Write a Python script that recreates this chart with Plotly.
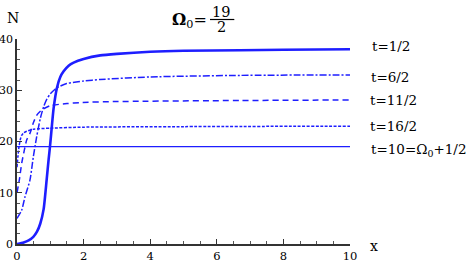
import plotly.graph_objects as go

# t = 1/2 (solid thick)
x_t1 = [0, 0.2, 0.35, 0.49, 0.6, 0.7, 0.8, 0.89, 0.95, 0.99, 1.04, 1.1, 1.2, 1.3, 1.4, 1.55, 1.7, 2.0, 2.5, 3, 4, 5, 6.7, 8, 10]
n_t1 = [0, 0.3, 0.7, 1.4, 2.4, 4.0, 6.8, 12.5, 16.5, 19, 22.5, 26.5, 30.5, 32.6, 33.7, 34.8, 35.4, 36.1, 36.8, 37.1, 37.5, 37.7, 37.8, 37.9, 38]
# t = 6/2 (dash-dot)
x_t6 = [0, 0.14, 0.24, 0.39, 0.49, 0.59, 0.7, 0.8, 0.9, 1.0, 1.2, 1.49, 2.0, 2.49, 4, 6.7, 10]
n_t6 = [5, 6.6, 9.2, 12.5, 17, 20.9, 24.5, 26.8, 28.3, 29.3, 30.5, 31.3, 31.8, 32.1, 32.6, 32.9, 33]
# t = 11/2 (dashed)
x_t11 = [0, 0.07, 0.14, 0.22, 0.29, 0.39, 0.5, 0.6, 0.75, 1.0, 1.5, 1.9, 3, 6.7, 10]
n_t11 = [10, 12.5, 15.7, 18.3, 20.3, 21.6, 23.8, 25.2, 26.2, 27.0, 27.4, 27.6, 27.8, 28.0, 28.1]
# t = 16/2 (dotted)
x_t16 = [0, 0.03, 0.06, 0.1, 0.14, 0.2, 0.29, 0.5, 1, 2, 5, 10]
n_t16 = [15, 17.2, 19, 20.4, 21.2, 21.7, 22.0, 22.4, 22.6, 22.8, 22.9, 23]
# t = 10 (thin solid)
x_t10 = [0, 10]
n_t10 = [19, 19]

labels = ["t=1/2", "t=6/2", "t=11/2", "t=16/2", "t=10=Ω<sub>0</sub>+1/2"]
label_y = [0.966, 0.816, 0.702, 0.576, 0.459]
label_x = [1.06, 1.057, 1.054, 1.054, 1.057]

BLUE = "rgb(30,30,255)"
FONT = "DejaVu Serif"

fig = go.Figure()
fig.add_trace(go.Scatter(x=x_t1, y=n_t1, mode="lines", line=dict(color=BLUE, width=2.6, shape="spline", smoothing=0.6)))
fig.add_trace(go.Scatter(x=x_t6, y=n_t6, mode="lines", line=dict(color=BLUE, width=1.5, dash="7px,2px,2px,2px", shape="spline", smoothing=0.6)))
fig.add_trace(go.Scatter(x=x_t11, y=n_t11, mode="lines", line=dict(color=BLUE, width=1.5, dash="6px,4px", shape="spline", smoothing=0.6)))
fig.add_trace(go.Scatter(x=x_t16, y=n_t16, mode="lines", line=dict(color=BLUE, width=1.5, dash="3px,1.5px", shape="spline", smoothing=0.6)))
fig.add_trace(go.Scatter(x=x_t10, y=n_t10, mode="lines", line=dict(color=BLUE, width=1.2)))

for lab, lx, ly in zip(labels, label_x, label_y):
    fig.add_annotation(text=lab, xref="paper", yref="paper", x=lx, y=ly, xanchor="left", yanchor="middle",
                       showarrow=False, font=dict(family=FONT, size=13.5, color="black"))

# title Omega_0 = 19/2
fig.add_annotation(text="<b>Ω</b><sub>0</sub>=", xref="paper", yref="paper", x=0.5766, y=1.09, xanchor="right",
                   yanchor="middle", showarrow=False, font=dict(family=FONT, size=16, color="black"))
fig.add_annotation(text="19", xref="paper", yref="paper", x=0.6141, y=1.134, xanchor="center", yanchor="middle",
                   showarrow=False, font=dict(family=FONT, size=14.5, color="black"))
fig.add_annotation(text="2", xref="paper", yref="paper", x=0.6141, y=1.057, xanchor="center", yanchor="middle",
                   showarrow=False, font=dict(family=FONT, size=14.5, color="black"))
fig.add_shape(type="line", xref="paper", yref="paper", x0=0.5796, x1=0.6526, y0=1.0951, y1=1.0951,
              line=dict(color="black", width=1.2))

fig.add_annotation(text="N", xref="paper", yref="paper", x=-0.0135, y=1.102, xanchor="center", yanchor="middle",
                   showarrow=False, font=dict(family=FONT, size=14, color="black"))
fig.add_annotation(text="x", xref="paper", yref="paper", x=1.072, y=-0.01, xanchor="center", yanchor="middle",
                   showarrow=False, font=dict(family=FONT, size=14, color="black"))

axis_common = dict(showgrid=False, zeroline=False, showline=True, linecolor="#333", linewidth=1.5,
                   ticks="inside", ticklen=5, tickwidth=1, tickcolor="#333", automargin=False)
fig.update_xaxes(range=[0, 10], tickvals=[0, 2, 4, 6, 8, 10], ticklabelstandoff=0,
                 tickfont=dict(family=FONT, size=11.5, color="black"),
                 minor=dict(ticks="inside", ticklen=3, dtick=0.5, tickcolor="#555"), **axis_common)
fig.update_yaxes(range=[0, 40], tickvals=[0, 10, 20, 30, 40], ticklabelstandoff=0,
                 tickfont=dict(family=FONT, size=11, color="black"),
                 minor=dict(ticks="inside", ticklen=3, dtick=2, tickcolor="#555"), **axis_common)

fig.update_layout(width=473, height=262, margin=dict(l=17, r=123, t=39, b=18),
                  plot_bgcolor="white", paper_bgcolor="white", showlegend=False)
fig.write_html("out.html", config={"displayModeBar": False},
               post_script="document.body.style.margin='0';document.body.style.overflow='hidden';")
